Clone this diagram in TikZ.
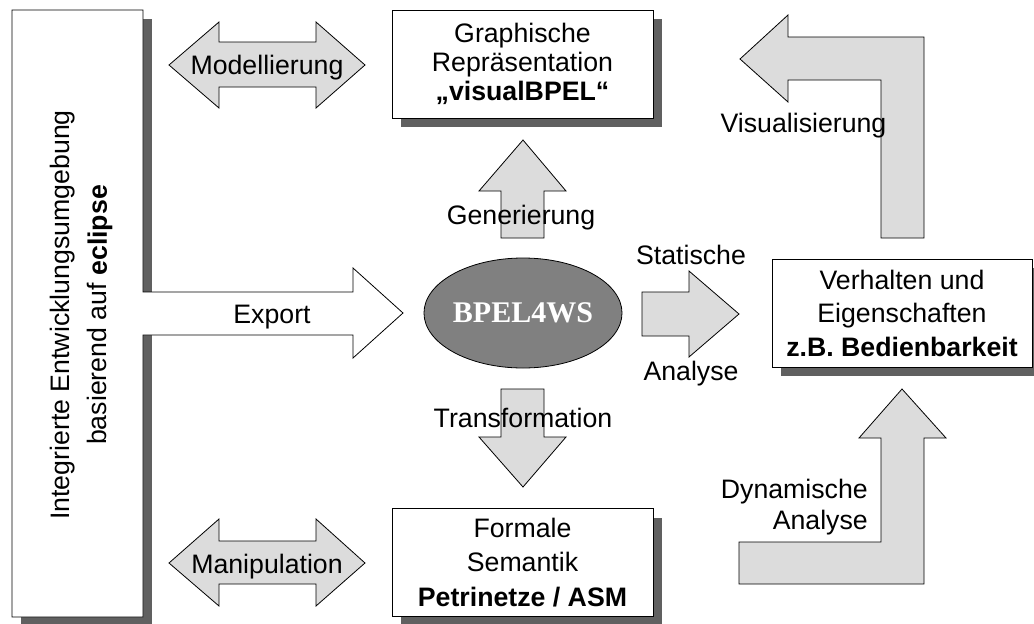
\documentclass[tikz,border=0pt]{standalone}
\usepackage{fontspec}
\setmainfont{Liberation Sans}
\newfontfamily\coreserif{Liberation Serif}
\usetikzlibrary{shapes.geometric,shadows}

\definecolor{shadowgray}{HTML}{606060}
\definecolor{arrowfill}{HTML}{DCDCDC}
\definecolor{corefill}{HTML}{808080}

\begin{document}
\begin{tikzpicture}[x=1pt,y=-1pt,
  outline/.style={draw=black, line width=0.8pt, line join=miter},
  blockarrow/.style={outline, fill=arrowfill},
  lbl/.style={inner sep=0pt, font=\fontsize{26.7}{31}\selectfont},
  infobox/.style={outline, fill=white, rectangle, inner sep=0pt,
    minimum width=261pt, minimum height=108pt, align=center,
    drop shadow={shadow xshift=9pt, shadow yshift=-9pt, fill=shadowgray, opacity=1}},
]
\useasboundingbox (0,0) rectangle (1034,624);

% development environment with its export arrow (one outline)
\fill[shadowgray] (21,19) rectangle (152,630);
\draw[outline, fill=white]
  (12,10) -- (143,10) -- (143,292) -- (353,292) -- (353,268) -- (403,313)
  -- (353,358) -- (353,335) -- (143,335) -- (143,617) -- (12,617) -- cycle;
\node[lbl, rotate=90, align=center, font=\fontsize{26.7}{37}\selectfont]
  (ide) at (81.5,315) {Integrierte Entwicklungsumgebung\\basierend auf \textbf{eclipse}};
\node[lbl, anchor=base] (export) at (272,323) {Export};

% two-way arrows to the editors
\draw[blockarrow] (169,65) -- (219,22) -- (219,42) -- (316,42) -- (316,22) -- (365,65)
  -- (316,108) -- (316,87) -- (219,87) -- (219,108) -- cycle;
\node[lbl, anchor=base] (model) at (267,74) {Modellierung};
\draw[blockarrow] (169,563) -- (219,519) -- (219,541) -- (316,541) -- (316,519) -- (365,563)
  -- (316,606) -- (316,584) -- (219,584) -- (219,606) -- cycle;
\node[lbl, anchor=base] (manip) at (267,573) {Manipulation};

% result boxes
\node[infobox, font=\fontsize{26.7}{29}\selectfont] (graph) at (522.5,64)
  {Graphische\\Repräsentation\\\textbf{„visualBPEL“}};
\node[infobox, font=\fontsize{26.7}{34.5}\selectfont] (formal) at (522.5,562.5)
  {Formale\\Semantik\\\textbf{Petrinetze / ASM}};
\node[infobox, minimum width=260pt, font=\fontsize{26.7}{33.5}\selectfont] (behav) at (902,313)
  {Verhalten und\\Eigenschaften\\\textbf{z.B. Bedienbarkeit}};

% central process description
\node[ellipse, outline, fill=corefill, minimum width=176pt, minimum height=110pt,
  inner sep=0pt, text=white, font=\coreserif\bfseries\fontsize{30}{34}\selectfont]
  (bpel) at (523,313) {BPEL4WS};

% generation (up)
\draw[blockarrow] (523,140) -- (566,191) -- (544,191) -- (544,238) -- (501,238)
  -- (501,191) -- (479,191) -- cycle;
\node[lbl, anchor=base] (gen) at (521,224) {Generierung};

% transformation (down)
\draw[blockarrow] (501,389) -- (544,389) -- (544,437) -- (566,437) -- (523,487)
  -- (479,437) -- (501,437) -- cycle;
\node[lbl, anchor=base] (trans) at (523,427) {Transformation};

% static analysis (right)
\draw[blockarrow] (642,292) -- (689,292) -- (689,271) -- (739,314) -- (689,357)
  -- (689,336) -- (642,336) -- cycle;
\node[lbl, anchor=base] (stat) at (691,264) {Statische};
\node[lbl, anchor=base] (statb) at (691,380) {Analyse};

% visualisation (bent, to the left)
\draw[blockarrow] (740,59) -- (788,15) -- (788,37) -- (924,37) -- (924,238) -- (881,238)
  -- (881,80) -- (788,80) -- (788,102) -- cycle;
\node[lbl, anchor=base] (vis) at (803.5,132) {Visualisierung};

% dynamic analysis (bent, upwards)
\draw[blockarrow] (902,389) -- (946,438) -- (924,438) -- (924,584) -- (739,584)
  -- (739,542) -- (881,542) -- (881,438) -- (859,438) -- cycle;
\node[lbl, anchor=base east] (dyn) at (868,498) {Dynamische};
\node[lbl, anchor=base east] (dynb) at (868,529) {Analyse};
\end{tikzpicture}
\end{document}
